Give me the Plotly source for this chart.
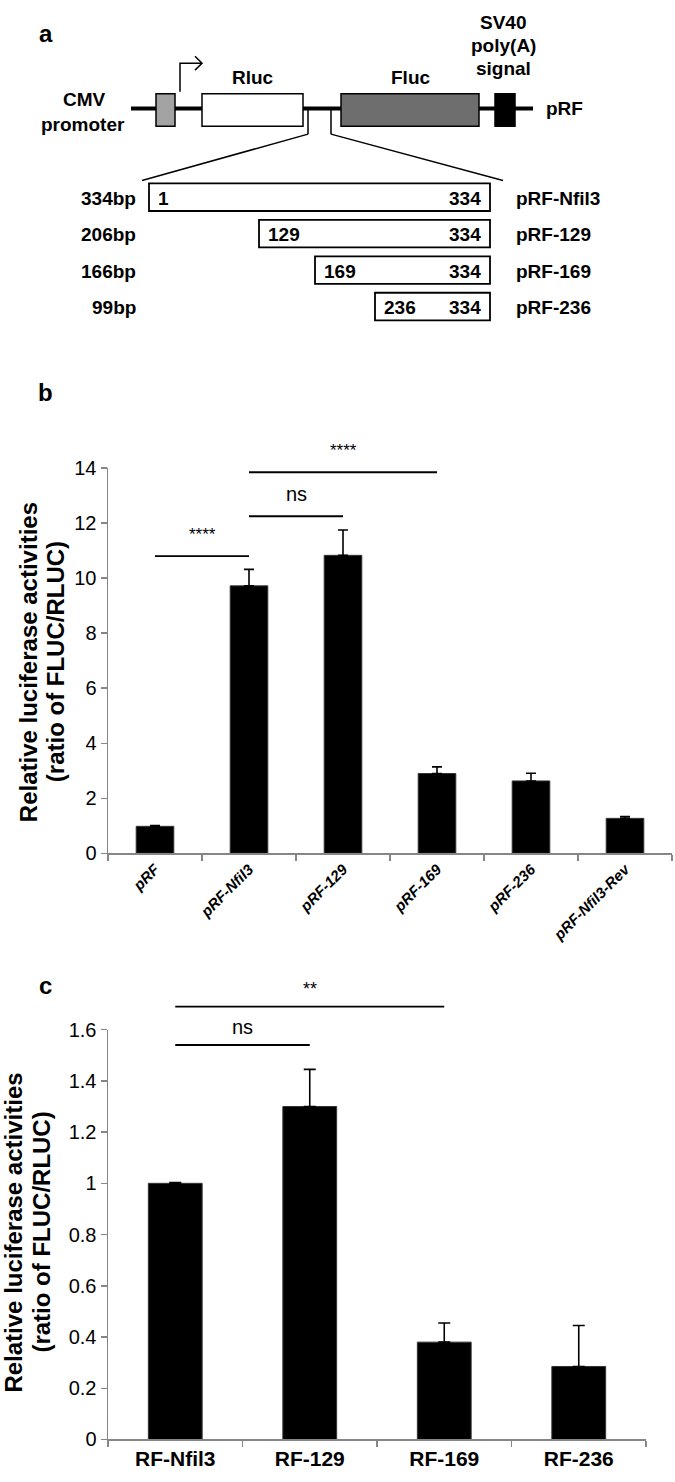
import plotly.graph_objects as go

W, H = 675, 1482

# ---------------- data ----------------
cats_b = ["pRF", "pRF-Nfil3", "pRF-129", "pRF-169", "pRF-236", "pRF-Nfil3-Rev"]
vals_b = [0.98, 9.72, 10.83, 2.90, 2.63, 1.27]
errs_b = [0.03, 0.60, 0.92, 0.24, 0.28, 0.07]
yticks_b = [0, 2, 4, 6, 8, 10, 12, 14]
sig_b_from = ["pRF", "pRF-Nfil3", "pRF-Nfil3"]
sig_b_to = ["pRF-Nfil3", "pRF-129", "pRF-169"]
sig_b_level = [10.8, 12.25, 13.85]
sig_b_text = ["****", "ns", "****"]

cats_c = ["RF-Nfil3", "RF-129", "RF-169", "RF-236"]
vals_c = [1.00, 1.30, 0.38, 0.285]
errs_c = [0.003, 0.145, 0.075, 0.16]
yticks_c = [0, 0.2, 0.4, 0.6, 0.8, 1.0, 1.2, 1.4, 1.6]
sig_c_from = ["RF-Nfil3", "RF-Nfil3"]
sig_c_to = ["RF-129", "RF-169"]
sig_c_level = [1.54, 1.69]
sig_c_text = ["ns", "**"]

# construct diagram (panel a)
fragments = ["pRF-Nfil3", "pRF-129", "pRF-169", "pRF-236"]
frag_len = ["334bp", "206bp", "166bp", "99bp"]
frag_start = ["1", "129", "169", "236"]
frag_end = ["334", "334", "334", "334"]

ytitle_lines = ["Relative luciferase activities", "(ratio of FLUC/RLUC)"]

FONT = "Liberation Sans, Arial, sans-serif"
AX_GREY = "#868686"


def px(x):
    return x / W


def py(y):
    return 1 - y / H


fig = go.Figure()

fig.add_trace(go.Bar(
    x=cats_b, y=vals_b, xaxis="x", yaxis="y",
    marker=dict(color="black", line=dict(color="#333333", width=1)),
    error_y=dict(type="data", array=errs_b, arrayminus=[0] * len(errs_b),
                 symmetric=False, color="black", thickness=1.6, width=5),
    showlegend=False, hoverinfo="skip"))

fig.add_trace(go.Bar(
    x=cats_c, y=vals_c, xaxis="x2", yaxis="y2",
    marker=dict(color="black", line=dict(color="#333333", width=1)),
    error_y=dict(type="data", array=errs_c, arrayminus=[0] * len(errs_c),
                 symmetric=False, color="black", thickness=1.6, width=6),
    showlegend=False, hoverinfo="skip"))

# invisible trace to hold the diagram axes
fig.add_trace(go.Scatter(x=[0, W], y=[0, 330], xaxis="x3", yaxis="y3",
                         mode="markers", marker=dict(opacity=0),
                         showlegend=False, hoverinfo="skip"))

axis_common = dict(showline=True, linecolor=AX_GREY, linewidth=1.5,
                   ticks="outside", tickcolor=AX_GREY, ticklen=6, tickwidth=1.5,
                   showgrid=False, zeroline=False, fixedrange=True)

shapes = []
annotations = []

# ---------- panel b/c significance brackets ----------
ymax_b = yticks_b[-1]
ymax_c = yticks_c[-1]
for a, b, lvl, txt in zip(sig_b_from, sig_b_to, sig_b_level, sig_b_text):
    shapes.append(dict(type="line", xref="x", yref="y domain", x0=a, x1=b,
                       y0=lvl / ymax_b, y1=lvl / ymax_b,
                       line=dict(color="black", width=1.8)))
    mid = (cats_b.index(a) + cats_b.index(b)) / 2
    annotations.append(dict(x=mid, y=lvl / ymax_b, xref="x", yref="y domain",
                            text=txt, showarrow=False, yanchor="middle", yshift=22,
                            font=dict(family=FONT, size=20 if txt == "ns" else 17, color="black")))

for a, b, lvl, txt in zip(sig_c_from, sig_c_to, sig_c_level, sig_c_text):
    shapes.append(dict(type="line", xref="x2", yref="y2 domain", x0=a, x1=b,
                       y0=lvl / ymax_c, y1=lvl / ymax_c,
                       line=dict(color="black", width=1.8)))
    mid = (cats_c.index(a) + cats_c.index(b)) / 2
    annotations.append(dict(x=mid, y=lvl / ymax_c, xref="x2", yref="y2 domain",
                            text=txt, showarrow=False, yanchor="middle", yshift=18,
                            font=dict(family=FONT, size=20 if txt == "ns" else 18, color="black")))

# ---------- y-axis titles (two lines each) ----------
for (x1, x2, yc) in [(28, 55, 661), (14, 42, 1240)]:
    for xl, line in zip((x1, x2), ytitle_lines):
        annotations.append(dict(x=px(xl), y=py(yc), xref="paper", yref="paper", text=line,
                                textangle=-90, showarrow=False, xanchor="center", yanchor="middle",
                                font=dict(family=FONT, size=24, color="black", weight="bold")))

# ---------- panel letters ----------
for letter, (lx, ly) in zip(["a", "b", "c"], [(46, 23), (45, 387), (45, 989)]):
    annotations.append(dict(x=px(lx), y=py(ly), xref="paper", yref="paper", text=letter,
                            showarrow=False, xanchor="center", yanchor="middle",
                            font=dict(family=FONT, size=24, color="black", weight="bold")))

# ---------- panel a diagram (pixel-like coordinates on x3/y3) ----------
def dline(x0, y0, x1, y1, w=2):
    shapes.append(dict(type="line", xref="x3", yref="y3", x0=x0, y0=y0, x1=x1, y1=y1,
                       line=dict(color="black", width=w)))


def drect(x0, y0, x1, y1, fill, w=1.5):
    shapes.append(dict(type="rect", xref="x3", yref="y3", x0=x0, y0=y0, x1=x1, y1=y1,
                       fillcolor=fill, line=dict(color="black", width=w)))


def dtext(x, y, t, anchor="center", size=19):
    annotations.append(dict(x=x, y=y, xref="x3", yref="y3", text=t, showarrow=False,
                            xanchor=anchor, yanchor="middle",
                            font=dict(family=FONT, size=size, color="black", weight="bold")))


dline(131, 99, 533, 99, w=4)
drect(156, 84, 175, 117, "#a3a3a3")
drect(202, 84, 303, 117, "white")
drect(341, 84, 479, 117, "#6e6e6e")
drect(495, 84, 515, 117, "black")
# promoter arrow
shapes.append(dict(type="path", xref="x3", yref="y3",
                   path="M 180 82 L 180 53 L 202 53 M 195 46 L 202 53 L 195 60",
                   line=dict(color="black", width=1.5)))
dtext(84, 90, "CMV")
dtext(83, 115, "promoter")
dtext(253, 68, "Rluc")
dtext(410, 68, "Fluc")
dtext(503, 12, "SV40")
dtext(503, 35, "poly(A)")
dtext(503, 58, "signal")
dtext(544, 99, "pRF", anchor="left")
# zoom lines
dline(308, 99, 308, 125, w=1.5)
dline(331, 99, 331, 125, w=1.5)
dline(308, 125, 142, 172, w=1.5)
dline(331, 125, 503, 172, w=1.5)

box_left = [149, 259, 315, 375]
box_top = [175, 212, 249, 286]
for i in range(len(fragments)):
    y0 = box_top[i]
    y1 = y0 + 28
    yc = (y0 + y1) / 2 + 1
    drect(box_left[i], y0, 490, y1, "white", w=1.8)
    dtext(box_left[i] + 7, yc, frag_start[i], anchor="left")
    dtext(483, yc, frag_end[i], anchor="right")
    dtext(138, yc, frag_len[i], anchor="right")
    dtext(514, yc, fragments[i], anchor="left")

fig.update_layout(
    width=W, height=H,
    margin=dict(l=0, r=0, t=0, b=0),
    paper_bgcolor="white", plot_bgcolor="white",
    bargap=0.6,
    showlegend=False,
    font=dict(family=FONT, color="black"),
    xaxis=dict(domain=[px(108), px(672)], anchor="y", type="category",
               tickson="boundaries", tickangle=-45,
               tickfont=dict(family=FONT, size=15, color="black", weight="bold", style="italic"),
               **axis_common),
    yaxis=dict(domain=[py(855), py(464)], anchor="x", range=[0, ymax_b],
               tickvals=yticks_b, tickfont=dict(family=FONT, size=20, color="black"),
               **axis_common),
    xaxis2=dict(domain=[px(108), px(646)], anchor="y2", type="category",
                tickson="boundaries",
                tickfont=dict(family=FONT, size=21, color="black", weight="bold"),
                **axis_common),
    yaxis2=dict(domain=[py(1450), py(1034)], anchor="x2", range=[0, ymax_c],
                tickvals=yticks_c, tickfont=dict(family=FONT, size=20, color="black"),
                **axis_common),
    xaxis3=dict(domain=[0, 1], anchor="y3", range=[0, W], visible=False, fixedrange=True),
    yaxis3=dict(domain=[py(330), 1], anchor="x3", range=[330, 0], visible=False, fixedrange=True),
    shapes=shapes,
    annotations=annotations,
)

fig.write_html("out.html", config={"displayModeBar": False, "staticPlot": True},
               post_script="document.body.style.margin='0';")
